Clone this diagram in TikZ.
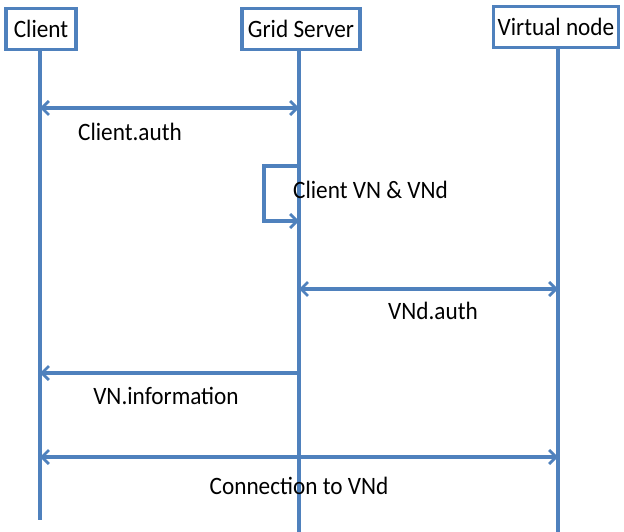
\documentclass[tikz,border=0pt]{standalone}
\usepackage{fontspec}
\setmainfont{Carlito}
\usetikzlibrary{arrows.meta}
\definecolor{lineblue}{RGB}{79,129,189}
\newcommand{\narrow}[1]{\scalebox{0.93}[1]{#1}}
\begin{document}
\begin{tikzpicture}[x=1pt,y=-1pt,
  actor/.style={draw=lineblue,line width=3.2pt,fill=white,inner sep=0pt,
    minimum height=41pt,font=\fontsize{25}{28}\selectfont},
  life/.style={draw=lineblue,line width=3.2pt},
  barb/.tip={Straight Barb[length=7pt,width=14pt,line width=2.8pt]},
  msg/.style={draw=lineblue,line width=3.2pt,barb-barb},
  msgto/.style={draw=lineblue,line width=3.2pt,-barb},
  lbl/.style={font=\fontsize{25}{28}\selectfont,inner sep=0pt}]
\useasboundingbox (0,0) rectangle (624,532);

% lifelines
\coordinate (cb) at (40,520);
\coordinate (gb) at (299,532);
\coordinate (vb) at (558,532);
\node[actor,minimum width=70pt] (client) at (41,29) {\narrow{Client}};
\node[actor,minimum width=118pt] (grid) at (301,29) {\narrow{Grid Server}};
\node[actor,minimum width=125pt] (vnode) at (556,27) {\narrow{Virtual node}};
\draw[life] (client.south -| cb) -- (cb);
\draw[life] (grid.south -| gb) -- (gb);
\draw[life] (vnode.south -| vb) -- (vb);

% messages
\coordinate (c1) at (40,108); \coordinate (g1) at (299,108);
\draw[msg] (c1) -- (g1);
\node[lbl] (l1) at (130,132) {\narrow{Client.auth}};

\coordinate (s1) at (299,166); \coordinate (s2) at (299,221);
\draw[msgto] (s1) -- (264,166) -- (264,221) -- (s2);
\node[lbl,anchor=west] (l2) at (293,190) {\narrow{Client VN \& VNd}};

\coordinate (g3) at (299,289); \coordinate (v3) at (558,289);
\draw[msg] (g3) -- (v3);
\node[lbl] (l3) at (433,311) {\narrow{VNd.auth}};

\coordinate (g4) at (299,373); \coordinate (c4) at (40,373);
\draw[msgto] (g4) -- (c4);
\node[lbl] (l4) at (166,396) {\narrow{VN.information}};

\coordinate (c5) at (40,457); \coordinate (v5) at (558,457);
\draw[msg] (c5) -- (v5);
\node[lbl] (l5) at (299,486) {\narrow{Connection to VNd}};
\end{tikzpicture}
\end{document}
